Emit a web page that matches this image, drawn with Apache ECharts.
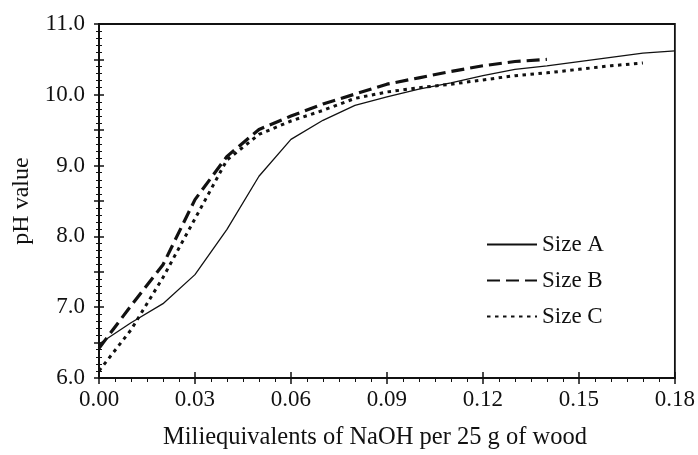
<!DOCTYPE html>
<html>
<head>
<meta charset="utf-8">
<script src="https://cdn.jsdelivr.net/npm/echarts@6/dist/echarts.min.js"></script>
<style>
  html, body { margin: 0; padding: 0; background: #fff; }
  #chart { width: 698px; height: 455px; }
</style>
</head>
<body>
<div id="chart"></div>
<script>
// NaOH added (meq per 25 g wood)
const xA = [0, 0.01, 0.02, 0.03, 0.04, 0.05, 0.06, 0.07, 0.08, 0.09, 0.10, 0.11, 0.12, 0.13, 0.14, 0.15, 0.16, 0.17, 0.18]
const phA = [6.48, 6.78, 7.05, 7.46, 8.1, 8.85, 9.37, 9.64, 9.85, 9.97, 10.08, 10.17, 10.27, 10.36, 10.41, 10.47, 10.53, 10.59, 10.62]

const xB = [0, 0.01, 0.02, 0.03, 0.04, 0.05, 0.06, 0.07, 0.08, 0.09, 0.10, 0.11, 0.12, 0.13, 0.14]
const phB = [6.42, 7.02, 7.6, 8.52, 9.13, 9.51, 9.7, 9.87, 10.01, 10.15, 10.24, 10.33, 10.41, 10.47, 10.5]

const xC = [0, 0.01, 0.02, 0.03, 0.04, 0.05, 0.06, 0.07, 0.08, 0.09, 0.10, 0.11, 0.12, 0.13, 0.14, 0.15, 0.16, 0.17]
const phC = [6.1, 6.68, 7.42, 8.25, 9.08, 9.44, 9.63, 9.78, 9.95, 10.04, 10.1, 10.15, 10.21, 10.27, 10.31, 10.36, 10.41, 10.45]

const pairs = (xs, ys) => xs.map((x, i) => [x, ys[i]])

const font = 'Liberation Serif'
const black = '#111'

const chart = echarts.init(document.getElementById('chart'))

const xBase = {
  type: 'value', min: 0, max: 0.18, interval: 0.03,
  splitLine: { show: false }
}
const yBase = {
  type: 'value', min: 6, max: 11, interval: 0.5,
  splitLine: { show: false }
}

const option = {
  animation: false,
  grid: {
    left: 99, right: 20, top: 24, bottom: 72,
    show: true, borderColor: black, borderWidth: 1.8
  },
  legend: {
    orient: 'vertical',
    left: 481, top: 228,
    itemWidth: 50, itemHeight: 14, itemGap: 13,
    itemStyle: { opacity: 0 },
    textStyle: { fontFamily: font, fontSize: 23, color: black },
    data: ['Size A', 'Size B', 'Size C']
  },
  xAxis: [
    Object.assign({}, xBase, {
      name: 'Miliequivalents of NaOH per 25 g of wood',
      nameLocation: 'middle', nameGap: 47,
      nameTextStyle: { fontFamily: font, fontSize: 24.5, color: black, padding: [0, 24, 0, 0] },
      axisLine: { lineStyle: { color: black, width: 2 } },
      axisTick: { inside: false, length: 6, lineStyle: { color: black, width: 1.5 } },
      minorTick: { show: true, splitNumber: 6, length: 4, lineStyle: { color: black, width: 1 } },
      axisLabel: {
        margin: 10, fontFamily: font, fontSize: 23, color: black,
        formatter: v => v.toFixed(2)
      }
    }),
    Object.assign({}, xBase, {
      position: 'bottom',
      axisLine: { show: false },
      axisTick: { inside: true, length: 6, lineStyle: { color: black, width: 1.5 } },
      axisLabel: { show: false }
    })
  ],
  yAxis: [
    Object.assign({}, yBase, {
      name: 'pH value',
      nameLocation: 'middle', nameGap: 61,
      nameTextStyle: { fontFamily: font, fontSize: 24, color: black },
      axisLine: { lineStyle: { color: black, width: 2 } },
      axisTick: { inside: false, length: 5, lineStyle: { color: black, width: 1.5 } },
      minorTick: { show: true, splitNumber: 5, length: 3, lineStyle: { color: black, width: 1 } },
      axisLabel: {
        margin: 14, fontFamily: font, fontSize: 23, color: black,
        formatter: v => Math.abs(v - Math.round(v)) < 1e-6 ? v.toFixed(1) : ''
      }
    }),
    Object.assign({}, yBase, {
      position: 'left',
      axisLine: { show: false },
      axisTick: { inside: true, length: 5, lineStyle: { color: black, width: 1.5 } },
      minorTick: { show: true, splitNumber: 5, length: 3, lineStyle: { color: black, width: 1 } },
      axisLabel: { show: false }
    })
  ],
  series: [
    {
      name: 'Size A', type: 'line', symbol: 'none',
      data: pairs(xA, phA),
      lineStyle: { color: black, width: 1.3, type: 'solid' },
      itemStyle: { color: black }
    },
    {
      name: 'Size B', type: 'line', symbol: 'none',
      data: pairs(xB, phB),
      lineStyle: { color: black, width: 3.2, type: [13, 6] },
      itemStyle: { color: black }
    },
    {
      name: 'Size C', type: 'line', symbol: 'none',
      data: pairs(xC, phC),
      lineStyle: { color: black, width: 3, type: [3.5, 4.5] },
      itemStyle: { color: black }
    }
  ]
}

chart.setOption(option)
</script>
</body>
</html>
